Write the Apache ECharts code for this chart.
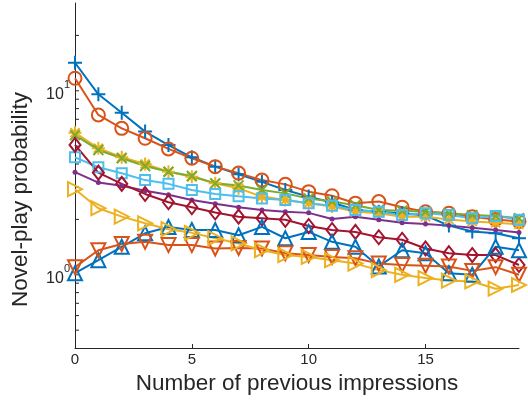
<!DOCTYPE html>
<html>
<head>
    <meta charset="UTF-8">
    <title>Novel-play probability</title>
    <script src="https://cdn.jsdelivr.net/npm/echarts@6.0.0/dist/echarts.min.js"></script>
    <style>
        * { margin: 0; padding: 0; box-sizing: border-box; }
        body { background: #fff; }
        #chart { width: 528px; height: 403px; }
    </style>
</head>
<body>
    <div id="chart"></div>
    <script>
        // x: number of previous impressions
        const impressions = [0, 1, 2, 3, 4, 5, 6, 7, 8, 9, 10, 11, 12, 13, 14, 15, 16, 17, 18, 19];
        const xTickValues = [0, 5, 10, 15];
        const yMinorTicks = [0.5, 0.6, 0.7, 0.8, 0.9, 1, 2, 3, 4, 5, 6, 7, 8, 9, 10, 20];

        // one array per curve
        const bluePlus = [14.2, 9.57, 7.6, 6.0, 5.07, 4.35, 3.87, 3.52, 3.2, 2.89, 2.66, 2.47, 2.25, 2.2, 2.16, 2.1, 1.85, 1.72, 1.68, 1.58];
        const orangeCircle = [11.7, 7.39, 6.25, 5.52, 4.83, 4.3, 3.87, 3.57, 3.27, 3.1, 2.83, 2.69, 2.45, 2.5, 2.33, 2.2, 2.16, 2.07, 2.0, 1.95];
        const yellowStar = [5.92, 4.87, 4.35, 4.0, 3.63, 3.41, 3.14, 2.95, 2.66, 2.55, 2.45, 2.35, 2.2, 2.16, 2.07, 2.07, 2.0, 1.95, 1.92, 1.88];
        const purpleDot = [3.61, 3.17, 3.05, 2.86, 2.72, 2.55, 2.43, 2.33, 2.25, 2.2, 2.17, 2.01, 2.07, 1.99, 1.92, 1.89, 1.85, 1.8, 1.75, 1.7];
        const greenCross = [5.74, 4.77, 4.3, 3.9, 3.63, 3.44, 3.14, 3.06, 2.89, 2.77, 2.6, 2.5, 2.39, 2.25, 2.23, 2.2, 2.16, 2.11, 2.09, 2.03];
        const cyanSquare = [4.35, 3.84, 3.56, 3.27, 3.12, 2.89, 2.75, 2.67, 2.6, 2.55, 2.45, 2.37, 2.25, 2.2, 2.11, 2.16, 2.11, 2.03, 2.09, 1.99];
        const redDiamond = [5.08, 3.59, 3.12, 2.75, 2.48, 2.33, 2.18, 2.07, 2.03, 1.99, 1.84, 1.75, 1.71, 1.6, 1.55, 1.39, 1.31, 1.28, 1.28, 1.13];
        const blueUp = [1.02, 1.2, 1.42, 1.68, 1.82, 1.75, 1.75, 1.64, 1.82, 1.58, 1.71, 1.51, 1.42, 1.11, 1.36, 1.31, 1.02, 1.0, 1.42, 1.36];
        const orangeDown = [1.1, 1.36, 1.47, 1.51, 1.45, 1.45, 1.39, 1.4, 1.39, 1.31, 1.28, 1.25, 1.23, 1.15, 1.13, 1.12, 1.11, 1.05, 1.1, 1.0];
        const yellowRight = [2.92, 2.3, 2.07, 1.905, 1.77, 1.69, 1.58, 1.48, 1.36, 1.28, 1.25, 1.2, 1.15, 1.06, 1.0, 0.96, 0.93, 0.92, 0.84, 0.88];

        const textColor = '#262626';
        const fontFamily = "'Liberation Sans', Arial, sans-serif";

        const PLUS = 'path://M5,0L5,10M0,5L10,5';
        const CROSS = 'path://M0,0L10,10M0,10L10,0';
        const STAR = 'path://M5,0L5,10M0,5L10,5M1.5,1.5L8.5,8.5M1.5,8.5L8.5,1.5';

        function makeLine(values, color, symbol, size, rotate) {
            return {
                type: 'line',
                data: impressions.map((x, i) => [x, values[i]]),
                symbol: symbol,
                symbolSize: size,
                symbolRotate: rotate || 0,
                showAllSymbol: true,
                clip: false,
                lineStyle: { color: color, width: 2 },
                itemStyle: { color: 'rgba(0,0,0,0)', borderColor: color, borderWidth: 2 },
                emphasis: { disabled: true },
                animation: false
            };
        }

        const chart = echarts.init(document.getElementById('chart'));

        const dotSeries = makeLine(purpleDot, '#7E2F8E', 'circle', 5);
        dotSeries.itemStyle = { color: '#7E2F8E', borderWidth: 0 };

        const option = {
            grid: { left: 75, right: 9, top: 3, bottom: 55 },
            xAxis: {
                type: 'value',
                min: 0,
                max: 19,
                name: 'Number of previous impressions',
                nameLocation: 'middle',
                nameGap: 23,
                nameTextStyle: { color: textColor, fontSize: 22.5, fontFamily: fontFamily },
                axisLine: { lineStyle: { color: textColor, width: 1 } },
                axisTick: { inside: true, length: 4, customValues: xTickValues, lineStyle: { color: textColor } },
                axisLabel: { customValues: xTickValues, color: textColor, fontSize: 15, fontFamily: fontFamily, margin: 4 },
                splitLine: { show: false }
            },
            yAxis: {
                type: 'log',
                logBase: 10,
                min: 0.4,
                max: 30,
                name: 'Novel-play probability',
                nameLocation: 'middle',
                nameGap: 43,
                nameTextStyle: { color: textColor, fontSize: 22.5, fontFamily: fontFamily, padding: [0, 48, 0, 0] },
                axisLine: { show: true, lineStyle: { color: textColor, width: 1 } },
                axisTick: { show: false },
                splitLine: { show: false },
                axisLabel: {
                    margin: 5,
                    fontFamily: fontFamily,
                    color: textColor,
                    formatter: function (v) {
                        if (Math.abs(v - 1) < 1e-6) return '{b|10}{s|0}';
                        if (Math.abs(v - 10) < 1e-6) return '{b|10}{s|1}';
                        return '';
                    },
                    rich: {
                        b: { fontSize: 16, color: textColor, fontFamily: fontFamily, verticalAlign: 'bottom' },
                        s: { fontSize: 11, color: textColor, fontFamily: fontFamily, verticalAlign: 'bottom', padding: [0, 0, 12, 0] }
                    }
                }
            },
            series: [
                makeLine(bluePlus, '#0072BD', PLUS, 14),
                makeLine(orangeCircle, '#D95319', 'circle', 13),
                makeLine(yellowStar, '#EDB120', STAR, 13),
                dotSeries,
                makeLine(greenCross, '#77AC30', CROSS, 10),
                makeLine(cyanSquare, '#4DBEEE', 'rect', 10),
                makeLine(redDiamond, '#A2142F', 'diamond', [11, 14]),
                makeLine(blueUp, '#0072BD', 'triangle', 14),
                makeLine(orangeDown, '#D95319', 'triangle', 14, 180),
                makeLine(yellowRight, '#EDB120', 'triangle', 14, -90),
                {
                    // minor/major ticks of the log axis, drawn inward
                    type: 'custom',
                    data: yMinorTicks.map(v => [0, v]),
                    silent: true,
                    animation: false,
                    renderItem: function (params, api) {
                        const p = api.coord([api.value(0), api.value(1)]);
                        return {
                            type: 'line',
                            shape: { x1: p[0], y1: p[1], x2: p[0] + 4, y2: p[1] },
                            style: { stroke: textColor, lineWidth: 1 }
                        };
                    }
                }
            ]
        };

        chart.setOption(option);
    </script>
</body>
</html>
